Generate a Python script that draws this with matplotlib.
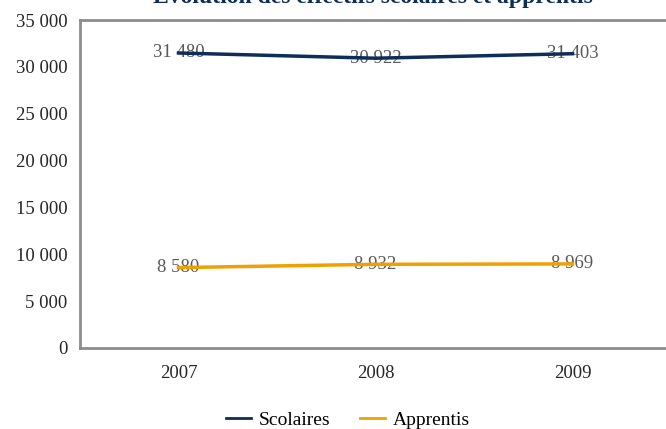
import matplotlib
matplotlib.use("Agg")
import matplotlib.pyplot as plt

years = ["2007", "2008", "2009"]
scolaires = [31480, 30922, 31403]
apprentis = [8580, 8932, 8969]
yticks = [0, 5000, 10000, 15000, 20000, 25000, 30000, 35000]

plt.rcParams['font.family'] = ['Liberation Serif', 'DejaVu Serif']


def fmt(v):
    return "{:,}".format(v).replace(",", " ")


fig = plt.figure(figsize=(6.66, 4.29), dpi=100)
ax = fig.add_axes([80 / 666, 81 / 429, 591 / 666, 328 / 429])

x = list(range(len(years)))
ax.plot(x, scolaires, color="#0d2d5a", lw=2.5, label="Scolaires", zorder=3)
ax.plot(x, apprentis, color="#f0a000", lw=2.5, label="Apprentis", zorder=3)

# data labels, drawn under the lines
for xi, v in zip(x, scolaires):
    ax.text(xi, v, fmt(v), ha="center", va="center", fontsize=13.5, color="#595959", zorder=2)
for xi, v in zip(x, apprentis):
    ax.text(xi, v, fmt(v), ha="center", va="center", fontsize=13.5, color="#595959", zorder=2)

ax.set_xlim(-0.5, 2.5)
ax.set_ylim(0, 35000)
ax.set_xticks(x)
ax.set_xticklabels(years)
ax.set_yticks(yticks)
ax.set_yticklabels([fmt(v) for v in yticks])
ax.tick_params(length=0, labelsize=13.5, colors="#262626", pad=9)
ax.tick_params(axis="x", pad=12)
for s in ax.spines.values():
    s.set_color("#8c8c8c")
    s.set_linewidth(2)

fig.text(373 / 666, 1 - 3 / 429, "Évolution des effectifs scolaires et apprentis",
         ha="center", va="baseline", fontsize=17, fontweight="bold", color="#0d2d5a")

fig.legend(loc="center", bbox_to_anchor=(348 / 666, 1 - 420 / 429), ncol=2, frameon=False,
           fontsize=14, handlelength=1.3, columnspacing=1.5, handletextpad=0.4)
for line in fig.legends[0].get_lines():
    line.set_linewidth(2)

fig.savefig("out.png", dpi=100)
